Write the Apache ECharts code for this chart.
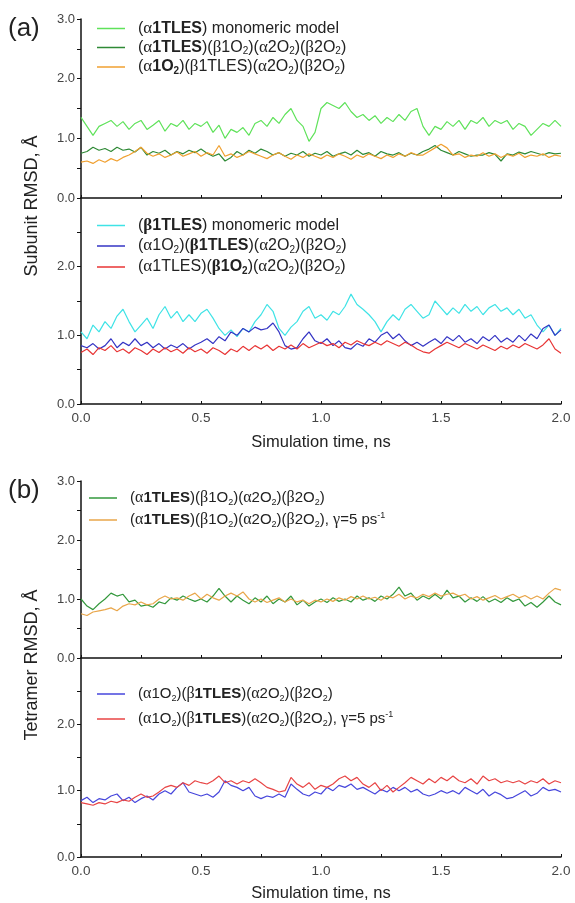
<!DOCTYPE html>
<html>
<head>
<meta charset="utf-8">
<script src="https://cdn.jsdelivr.net/npm/echarts@6/dist/echarts.min.js"></script>
<style>
  html, body { margin: 0; padding: 0; background: #fff; }
  #chart { width: 575px; height: 903px; }
</style>
</head>
<body>
<div id="chart"></div>
<script>
// time step of the traces, ns
var STEP = 0.025;
var xTicks = [0, 0.5, 1.0, 1.5, 2.0];

// (a) upper: alpha1 subunit RMSD
var aMono = [1.35, 1.2, 1.05, 1.2, 1.25, 1.3, 1.2, 1.28, 1.15, 1.25,
  1.3, 1.15, 1.22, 1.3, 1.12, 1.25, 1.2, 1.3, 1.15, 1.25,
  1.2, 1.28, 1.1, 1.22, 1.0, 1.15, 1.1, 1.18, 1.05, 1.25,
  1.3, 1.2, 1.35, 1.25, 1.4, 1.5, 1.3, 1.2, 0.95, 1.1,
  1.5, 1.6, 1.55, 1.5, 1.6, 1.45, 1.35, 1.4, 1.3, 1.38,
  1.25, 1.35, 1.28, 1.4, 1.3, 1.45, 1.5, 1.2, 1.05, 1.2,
  1.15, 1.28, 1.2, 1.3, 1.15, 1.3, 1.25, 1.35, 1.2, 1.3,
  1.25, 1.3, 1.15, 1.25, 1.2, 1.05, 1.15, 1.25, 1.2, 1.3,
  1.2];
var aTet = [0.75, 0.78, 0.85, 0.8, 0.83, 0.78, 0.85, 0.8, 0.82, 0.77,
  0.85, 0.72, 0.78, 0.75, 0.8, 0.72, 0.78, 0.74, 0.8, 0.76,
  0.82, 0.75, 0.7, 0.74, 0.62, 0.68, 0.78, 0.72, 0.8, 0.75,
  0.82, 0.78, 0.72, 0.76, 0.7, 0.75, 0.72, 0.78, 0.7, 0.75,
  0.72, 0.78, 0.7, 0.74, 0.77, 0.72, 0.8, 0.73, 0.76, 0.7,
  0.78, 0.74, 0.72, 0.76, 0.7, 0.75, 0.72, 0.78, 0.82, 0.88,
  0.8, 0.76, 0.72, 0.78, 0.74, 0.7, 0.72, 0.72, 0.76, 0.73,
  0.62, 0.74, 0.72, 0.77, 0.74, 0.78, 0.75, 0.72, 0.76, 0.74,
  0.75];
var aTetB = [0.6, 0.62, 0.58, 0.64, 0.6, 0.66, 0.62, 0.68, 0.72, 0.78,
  0.85, 0.75, 0.7, 0.74, 0.68, 0.72, 0.77, 0.7, 0.74, 0.78,
  0.7, 0.76, 0.72, 0.88, 0.7, 0.74, 0.68, 0.72, 0.78, 0.74,
  0.7, 0.66, 0.72, 0.76, 0.7, 0.65, 0.72, 0.68, 0.74, 0.7,
  0.66, 0.72, 0.68, 0.74, 0.7, 0.65, 0.72, 0.68, 0.74, 0.7,
  0.66, 0.72, 0.68, 0.74, 0.7, 0.76, 0.72, 0.72, 0.78, 0.84,
  0.9, 0.84, 0.72, 0.74, 0.68, 0.72, 0.7, 0.76, 0.7, 0.74,
  0.68, 0.73, 0.7, 0.75, 0.68, 0.72, 0.7, 0.74, 0.68, 0.72,
  0.7];

// (a) lower: beta1 subunit RMSD
var bMono = [1.05, 0.95, 1.15, 1.05, 1.2, 1.1, 1.28, 1.38, 1.2, 1.05,
  1.15, 1.25, 1.1, 1.3, 1.42, 1.25, 1.35, 1.2, 1.3, 1.2,
  1.32, 1.38, 1.25, 1.1, 1.0, 1.08, 0.98, 1.1, 1.05, 1.2,
  1.3, 1.45, 1.35, 1.1, 1.0, 1.12, 1.2, 1.35, 1.42, 1.25,
  1.3, 1.22, 1.35, 1.3, 1.42, 1.6, 1.45, 1.38, 1.3, 1.2,
  1.05, 1.2, 1.3, 1.22, 1.38, 1.45, 1.35, 1.25, 1.3, 1.5,
  1.4, 1.3, 1.4, 1.32, 1.45, 1.35, 1.42, 1.3, 1.4, 1.45,
  1.35, 1.4, 1.3, 1.38, 1.25, 1.3, 1.15, 1.05, 1.15, 1.0,
  1.1];
var bTet = [0.85, 0.82, 0.88, 0.8, 0.85, 0.95, 0.82, 0.9, 0.85, 0.95,
  0.85, 0.9, 0.82, 0.88, 0.8, 0.86, 0.82, 0.88, 0.8, 0.86,
  0.9, 0.95, 0.88, 0.98, 0.92, 1.05, 1.0, 1.1, 1.05, 1.12,
  1.08, 1.1, 1.18, 1.05, 0.85, 0.8, 0.82, 0.95, 1.05, 0.92,
  0.88, 0.95, 0.85, 0.92, 0.82, 0.8, 0.88, 0.84, 0.95, 0.9,
  1.0, 1.05, 0.95, 1.02, 0.92, 0.85, 0.9, 0.84, 0.9, 0.95,
  0.88, 0.98, 0.92, 1.0, 0.9, 0.95, 0.88, 0.98, 0.92, 1.0,
  0.9, 0.96, 0.9, 1.0, 0.92, 1.02, 0.95, 1.1, 1.15, 1.0,
  1.08];
var bTetB = [0.75, 0.8, 0.72, 0.82, 0.78, 0.85, 0.76, 0.8, 0.74, 0.82,
  0.78, 0.72, 0.8, 0.75, 0.82, 0.76, 0.8, 0.74, 0.82, 0.76,
  0.8, 0.74, 0.82, 0.78, 0.72, 0.8, 0.76, 0.84, 0.78, 0.85,
  0.8, 0.86, 0.78, 0.84, 0.8, 0.86, 0.8, 0.88, 0.82, 0.86,
  0.9, 0.85, 0.88, 0.82, 0.9, 0.86, 0.92, 0.88, 0.85, 0.9,
  0.86, 0.92, 0.88, 0.84, 0.9, 0.86, 0.8, 0.76, 0.74, 0.8,
  0.85, 0.9, 0.86, 0.82, 0.88, 0.84, 0.8, 0.86, 0.82, 0.78,
  0.84, 0.8, 0.86, 0.82, 0.88, 0.84, 0.8, 0.86, 0.95, 0.8,
  0.74];

// (b) upper: tetramer RMSD, alpha1 TLES
var tA = [1.0, 0.88, 0.82, 0.92, 1.0, 1.1, 1.05, 1.08, 0.95, 0.98,
  0.88, 0.9, 0.86, 0.95, 0.92, 1.02, 0.98, 1.05, 1.0, 0.96,
  1.0, 0.95, 1.05, 1.18, 1.05, 0.95, 1.05, 0.98, 0.92, 1.02,
  0.95, 1.05, 0.92, 1.0, 0.95, 1.05, 0.9, 0.98, 0.88, 0.95,
  1.0, 0.94, 1.02, 0.96, 1.0, 0.95, 1.05, 0.98, 1.02, 0.96,
  1.05, 1.0, 1.08, 1.2, 1.05, 1.1, 0.98, 1.05, 1.0, 1.08,
  1.0, 1.15, 1.02, 1.05, 0.95, 1.02, 0.96, 1.04, 0.95, 1.0,
  0.94, 1.02, 0.96, 1.0, 0.88, 0.94, 0.86, 0.95, 1.05, 0.95,
  0.9];
var tAg = [0.75, 0.72, 0.78, 0.8, 0.82, 0.85, 0.8, 0.88, 0.92, 0.9,
  0.95, 0.9, 0.92, 1.0, 1.05, 1.0, 1.02, 0.98, 1.05, 1.1,
  1.0, 1.08, 1.02, 0.98, 1.05, 1.1, 1.05, 1.12, 1.0, 0.95,
  1.0, 0.94, 0.98, 1.02, 0.95, 1.0, 0.95, 0.98, 0.92, 0.98,
  0.95, 1.0, 0.96, 1.02, 0.98, 1.04, 1.0, 1.05, 1.0, 1.03,
  0.98, 1.05, 1.02, 1.08, 1.0, 1.05, 1.02, 1.08, 1.04, 1.1,
  1.05, 1.08, 1.1, 1.05, 1.08, 1.0, 1.04, 0.98, 1.02, 1.06,
  1.0, 1.04, 1.08, 1.02, 1.06, 1.0, 1.05, 1.0, 1.1, 1.18,
  1.15];

// (b) lower: tetramer RMSD, beta1 TLES
var tB = [0.85, 0.9, 0.82, 0.88, 0.86, 0.92, 0.95, 0.85, 0.9, 0.82,
  0.88, 0.92, 0.86, 0.95, 1.0, 0.95, 1.05, 1.12, 0.98, 0.95,
  0.92, 0.95, 0.9, 0.98, 1.15, 1.08, 1.05, 1.0, 1.05, 0.92,
  0.88, 0.92, 0.9, 0.95, 0.9, 1.1, 1.02, 0.95, 0.92, 0.98,
  0.95, 1.05, 1.0, 1.08, 1.05, 1.1, 1.02, 1.05, 1.0, 0.95,
  1.02, 0.98, 1.05, 1.0, 1.05, 0.98, 1.02, 0.95, 0.92, 0.95,
  1.0, 0.96, 1.0, 0.95, 1.05, 1.0, 0.95, 1.02, 0.92, 0.98,
  0.94, 0.88, 0.9, 0.95, 1.0, 0.92, 0.96, 1.05, 1.0, 1.02,
  0.98];
var tBg = [0.82, 0.8, 0.78, 0.82, 0.8, 0.84, 0.82, 0.86, 0.84, 0.9,
  0.95, 0.9, 0.92, 0.98, 1.05, 1.08, 1.05, 1.12, 1.08, 1.15,
  1.12, 1.1, 1.15, 1.22, 1.12, 1.15, 1.1, 1.15, 1.12, 1.18,
  1.12, 1.05, 1.02, 0.98, 1.0, 1.2, 1.1, 1.05, 1.12, 1.02,
  1.08, 1.05, 1.1, 1.18, 1.22, 1.15, 1.2, 1.1, 1.05, 1.12,
  1.0, 1.08, 0.98, 1.05, 1.12, 1.2, 1.15, 1.1, 1.18, 1.12,
  1.2, 1.15, 1.22, 1.15, 1.12, 1.18, 1.1, 1.22, 1.15, 1.18,
  1.12, 1.15, 1.12, 1.15, 1.1, 1.15, 1.12, 1.18, 1.1, 1.15,
  1.12];

// legend labels (rich text)
var tet = '{n|(}{g|α}{n|2O}{s|2}{n|)(}{g|β}{n|2O}{s|2}{n|)}';
var gam = '{n|, }{g|γ}{n|=5 ps}{sup|-1}';
var labels = {
  aMono: '{n|(}{g|α}{b|1TLES}{n|) monomeric model}',
  aTet: '{n|(}{g|α}{b|1TLES}{n|)(}{g|β}{n|1O}{s|2}{n|)}' + tet,
  aTetB: '{n|(}{g|α}{b|1O}{sb|2}{n|)(}{g|β}{n|1TLES)}' + tet,
  bMono: '{n|(}{gb|β}{b|1TLES}{n|) monomeric model}',
  bTet: '{n|(}{g|α}{n|1O}{s|2}{n|)(}{gb|β}{b|1TLES}{n|)}' + tet,
  bTetB: '{n|(}{g|α}{n|1TLES)(}{gb|β}{b|1O}{sb|2}{n|)}' + tet,
  tA: '{n|(}{g|α}{b|1TLES}{n|)(}{g|β}{n|1O}{s|2}{n|)}' + tet,
  tAg: '{n|(}{g|α}{b|1TLES}{n|)(}{g|β}{n|1O}{s|2}{n|)}' + tet + gam,
  tB: '{n|(}{g|α}{n|1O}{s|2}{n|)(}{g|β}{b|1TLES}{n|)}' + tet,
  tBg: '{n|(}{g|α}{n|1O}{s|2}{n|)(}{g|β}{b|1TLES}{n|)}' + tet + gam
};

var FONT = 'Liberation Sans';
function makeRich(fs) {
  var c = '#222';
  return {
    sp: { width: 8 },
    n: { fontSize: fs, lineHeight: 18, fontFamily: FONT, color: c },
    b: { fontSize: fs, lineHeight: 18, fontFamily: FONT, color: c, fontWeight: 'bold' },
    g: { fontSize: fs + 1, lineHeight: 18, fontFamily: 'Liberation Serif', color: c },
    gb: { fontSize: fs + 1, lineHeight: 18, fontFamily: 'Liberation Serif', color: c, fontWeight: 'bold' },
    s: { fontSize: fs - 6, fontFamily: FONT, color: c, verticalAlign: 'bottom' },
    sb: { fontSize: fs - 6, fontFamily: FONT, color: c, verticalAlign: 'bottom', fontWeight: 'bold' },
    sup: { fontSize: fs - 6, fontFamily: FONT, color: c, verticalAlign: 'top' }
  };
}

function pts(arr) {
  return arr.map(function (v, i) { return [i * STEP, v]; });
}

var grids = [
  { left: 81, width: 480, top: 19, height: 179 },
  { left: 81, width: 480, top: 198, height: 206 },
  { left: 81, width: 480, top: 481, height: 177 },
  { left: 81, width: 480, top: 658, height: 207 }
];

function xAx(i, showLabel, gap) {
  return {
    type: 'value', gridIndex: i, min: 0, max: 2, interval: 0.25,
    name: showLabel ? 'Simulation time, ns' : '',
    nameLocation: 'middle', nameGap: gap,
    nameTextStyle: { fontSize: 16.5, fontFamily: FONT, color: '#222' },
    axisLine: { lineStyle: { color: '#111', width: 1.5 } },
    axisTick: { inside: true, length: 3, lineStyle: { color: '#111' } },
    splitLine: { show: false },
    axisLabel: {
      show: showLabel, margin: 7, fontSize: 13.5, fontFamily: FONT, color: '#444',
      formatter: function (v) { return xTicks.indexOf(v) >= 0 ? v.toFixed(1) : ''; }
    }
  };
}
function yAx(i, hideTop) {
  return {
    type: 'value', gridIndex: i, min: 0, max: 3, interval: 0.5,
    axisLine: { show: true, lineStyle: { color: '#111', width: 1.5 } },
    axisTick: { show: true, length: 4, lineStyle: { color: '#111' } },
    splitLine: { show: false },
    axisLabel: {
      margin: 6, fontSize: 13, fontFamily: FONT, color: '#444',
      formatter: function (v) {
        if (hideTop && v === 3) return '';
        return v % 1 === 0 ? v.toFixed(1) : '';
      }
    }
  };
}

function line(name, data, color, gi) {
  return {
    name: name, type: 'line', xAxisIndex: gi, yAxisIndex: gi,
    data: pts(data), symbol: 'none', showSymbol: false,
    lineStyle: { width: 1.2, color: color }, itemStyle: { color: color },
    animation: false
  };
}

function legend(names, left, top, gap, fs) {
  return {
    data: names, orient: 'vertical', left: left, top: top, itemGap: gap,
    icon: 'rect', itemWidth: 28, itemHeight: 1.5, selectedMode: false,
    textStyle: { rich: makeRich(fs) },
    formatter: function (name) { return '{sp|}' + labels[name]; }
  };
}

var myChart = echarts.init(document.getElementById('chart'));
var option = {
  backgroundColor: '#fff',
  grid: grids,
  xAxis: [xAx(0, false, 0), xAx(1, true, 30), xAx(2, false, 0), xAx(3, true, 28)],
  yAxis: [yAx(0, false), yAx(1, true), yAx(2, false), yAx(3, true)],
  legend: [
    legend(['aMono', 'aTet', 'aTetB'], 92, 15, 2, 16),
    legend(['bMono', 'bTet', 'bTetB'], 92, 212, 3.5, 16),
    legend(['tA', 'tAg'], 84, 485, 4, 15),
    legend(['tB', 'tBg'], 92, 681, 7, 15)
  ],
  graphic: [
    { type: 'text', left: 8, top: 16, style: { text: '(a)', fontSize: 26, fontFamily: FONT, fill: '#222' } },
    { type: 'text', left: 8, top: 478, style: { text: '(b)', fontSize: 26, fontFamily: FONT, fill: '#222' } },
    { type: 'text', x: 32, y: 206, rotation: Math.PI / 2,
      style: { text: 'Subunit RMSD, Å', fontSize: 18, fontFamily: FONT, fill: '#222', align: 'center', verticalAlign: 'middle' } },
    { type: 'text', x: 32, y: 665, rotation: Math.PI / 2,
      style: { text: 'Tetramer RMSD, Å', fontSize: 18, fontFamily: FONT, fill: '#222', align: 'center', verticalAlign: 'middle' } }
  ],
  series: [
    line('aMono', aMono, '#5fe25a', 0),
    line('aTet', aTet, '#2f8a36', 0),
    line('aTetB', aTetB, '#f0a030', 0),
    line('bMono', bMono, '#3fe3e6', 1),
    line('bTet', bTet, '#3434c4', 1),
    line('bTetB', bTetB, '#e83434', 1),
    line('tA', tA, '#33983c', 2),
    line('tAg', tAg, '#e9a64a', 2),
    line('tB', tB, '#4646dc', 3),
    line('tBg', tBg, '#e84444', 3)
  ]
};
myChart.setOption(option, true);
window.addEventListener('resize', function () {
  myChart.resize();
});
</script>
</body>
</html>
